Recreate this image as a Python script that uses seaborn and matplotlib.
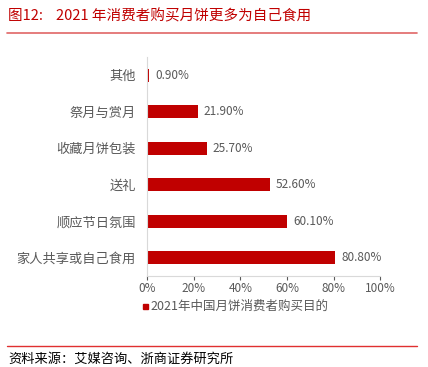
import matplotlib
matplotlib.use("Agg")
import matplotlib.pyplot as plt
import seaborn as sns
import pandas as pd
from matplotlib.ticker import PercentFormatter

# data
categories = ["其他", "祭月与赏月", "收藏月饼包装", "送礼", "顺应节日氛围", "家人共享或自己食用"]
values = [0.9, 21.9, 25.7, 52.6, 60.1, 80.8]
series_name = "2021年中国月饼消费者购买目的"

df = pd.DataFrame({"cat": categories, "val": values, "series": series_name})

sns.set_theme(style="white")
plt.rcParams["font.family"] = ["Noto Sans CJK SC", "DejaVu Sans"]

red = "#c00000"
gray = "#595959"

fig = plt.figure(figsize=(4.28, 3.67), dpi=100)
ax = fig.add_axes([0.3435, 0.248, 0.545, 0.597])

sns.barplot(data=df, y="cat", x="val", hue="series", palette=[red],
            saturation=1, linewidth=0, width=0.36, orient="h", ax=ax, legend=False)

for i, v in enumerate(values):
    ax.text(v + 2.5, i, f"{v:.2f}%", va="center", ha="left", fontsize=8.5, color=gray)

ax.set_xlim(0, 100)
ax.set_xticks([0, 20, 40, 60, 80, 100])
ax.xaxis.set_major_formatter(PercentFormatter(decimals=0))
ax.set_xlabel("")
ax.set_ylabel("")
ax.tick_params(axis="x", labelsize=8.5, colors=gray, length=3, width=0.8,
               direction="out", bottom=True, pad=1.5)
ax.tick_params(axis="y", labelsize=9.5, colors=gray, length=0, pad=8)
for s in ["top", "right"]:
    ax.spines[s].set_visible(False)
for s in ["left", "bottom"]:
    ax.spines[s].set_color("#d9d9d9")
    ax.spines[s].set_linewidth(0.8)

# legend
fig.patches.append(plt.Rectangle((143 / 428, 1 - 309 / 367), 5 / 428, 5 / 367,
                                 transform=fig.transFigure, color=red))
fig.text(150 / 428, 1 - 306 / 367, series_name, fontsize=9, color=gray, va="center")

# title and rules
fig.text(8 / 428, 1 - 16 / 367, "图12:    2021 年消费者购买月饼更多为自己食用",
         fontsize=10.5, color=red, va="center")
fig.add_artist(plt.Line2D([7 / 428, 417 / 428], [1 - 33 / 367, 1 - 33 / 367],
                          transform=fig.transFigure, color="#e06666", lw=1.2))
fig.add_artist(plt.Line2D([7 / 428, 417 / 428], [1 - 346 / 367, 1 - 346 / 367],
                          transform=fig.transFigure, color="#e03030", lw=1.0))
fig.text(8 / 428, 1 - 359 / 367, "资料来源：艾媒咨询、浙商证券研究所",
         fontsize=9.5, color="black", va="center")

fig.savefig("out.png", dpi=100)
